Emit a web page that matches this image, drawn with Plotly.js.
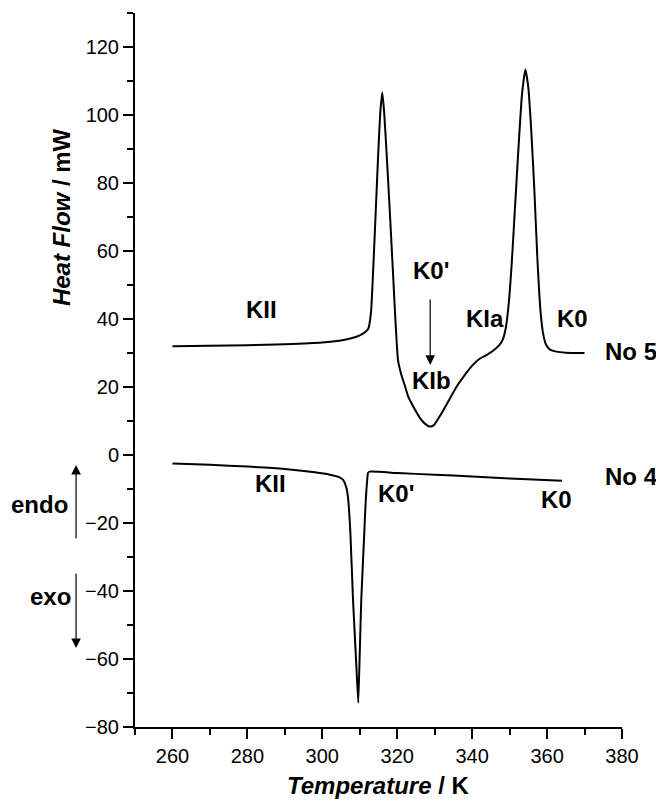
<!DOCTYPE html>
<html>
<head>
<meta charset="utf-8">
<script src="https://cdn.plot.ly/plotly-3.0.1.min.js"></script>
<style>html,body{margin:0;padding:0;background:#fff;}#chart{width:656px;height:804px;}</style>
</head>
<body>
<div id="chart"></div>
<script>
// Sample No 5 (upper trace)
const no5Temp = [260, 270, 280, 290, 300, 305, 308, 310, 311.5, 312.3, 313.0, 313.6, 314.2, 314.9, 315.5, 316.0, 316.5, 317.2, 318.0, 318.8, 319.5, 320.2, 321.0, 322.0, 323.0, 324.5, 326.0, 327.3, 328.6, 329.7, 331.3, 333.5, 335.8, 338.0, 340.2, 342.0, 343.8, 345.5, 347.3, 348.2, 349.0, 349.8, 350.6, 351.5, 352.4, 353.3, 354.2, 355.0, 355.8, 356.6, 357.4, 358.2, 358.9, 359.7, 360.8, 362.5, 365, 370];
const no5Heat = [32.0, 32.1, 32.3, 32.6, 33.1, 33.7, 34.4, 35.2, 36.2, 37.2, 42, 55, 70, 88, 101, 106.6, 101, 88, 72, 55, 40, 28, 24, 20.5, 17, 13.8, 11, 9.3, 8.4, 8.7, 11.3, 15.5, 20, 23.5, 26.5, 28.3, 29.4, 30.6, 32.4, 34, 37.5, 45, 57, 74, 91, 106, 113.4, 108, 95, 78, 58, 43, 36, 32.5, 31, 30.4, 30.1, 30.0];

// Sample No 4 (lower trace)
const no4Temp = [260, 270, 280, 290, 298, 302, 304.5, 305.6, 306.4, 306.9, 307.5, 308.2, 309.1, 309.6, 310.0, 310.4, 311.2, 311.6, 312.0, 312.2, 312.7, 320, 330, 340, 350, 364];
const no4Heat = [-2.5, -2.9, -3.4, -4.1, -5.1, -5.8, -6.5, -7.4, -9.5, -13, -23, -42.6, -62.3, -72.9, -58, -42.6, -23, -13.2, -7, -5.3, -4.9, -5.3, -5.8, -6.3, -6.9, -7.6];

// Phase labels placed on the curves
const phaseLabels = ["KII", "K0'", "KIb", "KIa", "K0", "KII", "K0'", "K0"];
const phaseLabelT = [283.9, 329.1, 329.1, 343.3, 366.9, 286.2, 319.8, 362.6];
const phaseLabelH = [42.8, 54.4, 22, 40.2, 40.2, -8.3, -11.3, -13.2];

const xTitle = "<b><i>Temperature</i> / K</b>";
const yTitle = "<b><i>Heat Flow</i> / mW</b>";

const FONT = "Liberation Sans, Arial, Helvetica, sans-serif";
const LBL = 24;

const traces = [
  {x: no5Temp, y: no5Heat, mode: "lines", line: {color: "#000", width: 2, shape: "spline", smoothing: 0.5}, hoverinfo: "skip"},
  {x: no4Temp, y: no4Heat, mode: "lines", line: {color: "#000", width: 2, shape: "spline", smoothing: 0.4}, hoverinfo: "skip"}
];

const ann = [];
for (let i = 0; i < phaseLabels.length; i++) {
  ann.push({x: phaseLabelT[i], y: phaseLabelH[i], xref: "x", yref: "y", text: "<b>" + phaseLabels[i] + "</b>",
    showarrow: false, font: {family: FONT, size: LBL, color: "#000"}, xanchor: "center", yanchor: "middle"});
}
// No 5 / No 4
ann.push({x: 0.96, y: 0.5256, xref: "paper", yref: "paper", text: "<b>No 5</b>", showarrow: false,
  font: {family: FONT, size: LBL, color: "#000"}, xanchor: "left", yanchor: "middle"});
ann.push({x: 0.96, y: 0.3506, xref: "paper", yref: "paper", text: "<b>No 4</b>", showarrow: false,
  font: {family: FONT, size: LBL, color: "#000"}, xanchor: "left", yanchor: "middle"});
// K0' -> KIb arrow
ann.push({x: 328.8, y: 26.5, xref: "x", yref: "y", ax: 328.8, ay: 46.2, axref: "x", ayref: "y", text: "",
  showarrow: true, arrowhead: 2, arrowsize: 1.6, arrowwidth: 1.2, arrowcolor: "#000"});
// endo / exo
ann.push({x: (39.5 - 135) / 487.5, y: (727 - 504) / 714, xref: "paper", yref: "paper", text: "<b>endo</b>", showarrow: false,
  font: {family: FONT, size: LBL, color: "#000"}, xanchor: "center", yanchor: "middle"});
ann.push({x: (50 - 135) / 487.5, y: (727 - 596.7) / 714, xref: "paper", yref: "paper", text: "<b>exo</b>", showarrow: false,
  font: {family: FONT, size: LBL, color: "#000"}, xanchor: "center", yanchor: "middle"});
ann.push({x: -0.121, y: (727 - 465) / 714, xref: "paper", yref: "paper", ax: 0, ay: 75, text: "",
  showarrow: true, arrowhead: 2, arrowsize: 1.6, arrowwidth: 1.2, arrowcolor: "#000"});
ann.push({x: -0.121, y: (727 - 648) / 714, xref: "paper", yref: "paper", ax: 0, ay: -76, text: "",
  showarrow: true, arrowhead: 2, arrowsize: 1.6, arrowwidth: 1.2, arrowcolor: "#000"});
// axis titles
ann.push({x: 0.5, y: (727 - 785) / 714, xref: "paper", yref: "paper", text: xTitle, showarrow: false,
  font: {family: FONT, size: 24, color: "#000"}, xanchor: "center", yanchor: "middle"});
ann.push({x: (61 - 135) / 487.5, y: (727 - 217) / 714, xref: "paper", yref: "paper", text: yTitle, showarrow: false,
  textangle: -90, font: {family: FONT, size: 24, color: "#000"}, xanchor: "center", yanchor: "middle"});

const axisCommon = {
  showgrid: false, zeroline: false, showline: true, linecolor: "#000", linewidth: 2,
  ticks: "outside", ticklen: 10, tickwidth: 2, tickcolor: "#000",
  tickfont: {family: FONT, size: 20, color: "#000"}, fixedrange: true
};

const layout = {
  width: 656, height: 804,
  margin: {l: 135, r: 34, t: 13, b: 77},
  paper_bgcolor: "#fff", plot_bgcolor: "#fff",
  showlegend: false,
  xaxis: Object.assign({}, axisCommon, {range: [250, 380], tick0: 260, dtick: 20,
    minor: {dtick: 10, tick0: 250, ticks: "outside", ticklen: 6, tickwidth: 2, tickcolor: "#000", showgrid: false}}),
  yaxis: Object.assign({}, axisCommon, {range: [-80, 130], tick0: 0, dtick: 20,
    minor: {dtick: 10, tick0: 0, ticks: "outside", ticklen: 6, tickwidth: 2, tickcolor: "#000", showgrid: false}}),
  annotations: ann
};

Plotly.newPlot("chart", traces, layout, {staticPlot: true, displayModeBar: false});
</script>
</body>
</html>
